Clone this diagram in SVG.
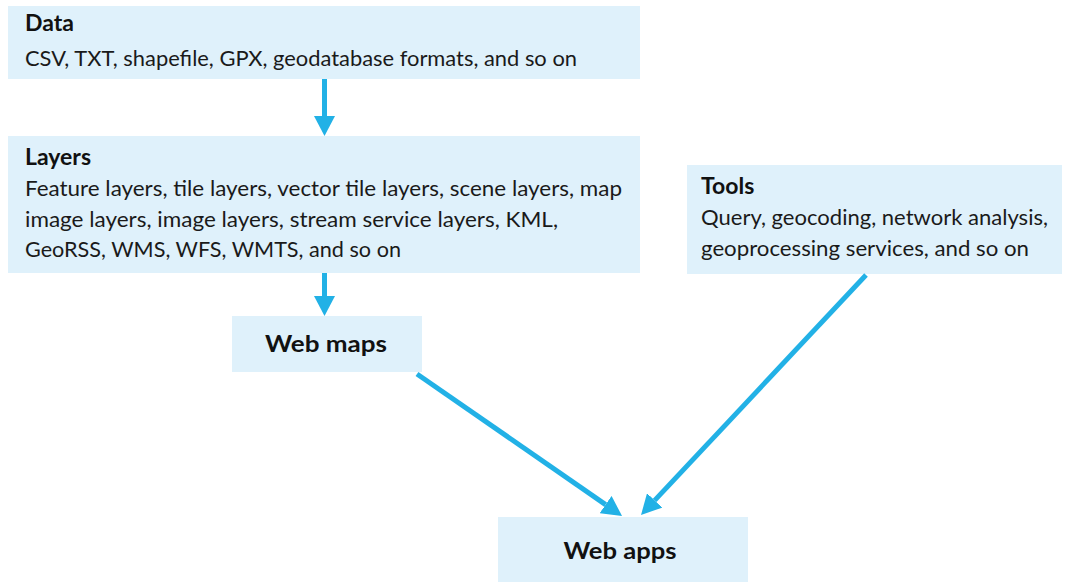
<svg xmlns="http://www.w3.org/2000/svg" width="1067" height="582" viewBox="0 0 1067 582">
  <style>
    .box { fill: #dff1fb; }
    .title { font-family: Lato, "Open Sans", "Liberation Sans", sans-serif; font-weight: bold; font-size: 23px; fill: #111; }
    .body { font-family: Lato, "Open Sans", "Liberation Sans", sans-serif; font-size: 21px; fill: #1a1a1a; }
    .link { fill: none; stroke: #22b1e6; stroke-width: 5; }
  </style>
  <defs>
    <marker id="head" markerUnits="userSpaceOnUse" viewBox="0 0 20 21" refX="0" refY="10.5" markerWidth="20" markerHeight="21" orient="auto">
      <path d="M0,0 L20,10.5 L0,21 z" fill="#22b1e6"/>
    </marker>
  </defs>

  <rect width="1067" height="582" fill="#ffffff"/>

  <g id="data">
    <rect class="box" x="8" y="6" width="632" height="73"/>
    <text class="title" x="25" y="31">Data</text>
    <text class="body" x="25" y="66" textLength="552" lengthAdjust="spacingAndGlyphs">CSV, TXT, shapefile, GPX, geodatabase formats, and so on</text>
  </g>

  <g id="layers">
    <rect class="box" x="8" y="136" width="632" height="137"/>
    <text class="title" x="25" y="165">Layers</text>
    <text class="body" x="25" y="196" textLength="597" lengthAdjust="spacingAndGlyphs">Feature layers, tile layers, vector tile layers, scene layers, map</text>
    <text class="body" x="25" y="227" textLength="533" lengthAdjust="spacingAndGlyphs">image layers, image layers, stream service layers, KML,</text>
    <text class="body" x="25" y="257" textLength="376" lengthAdjust="spacingAndGlyphs">GeoRSS, WMS, WFS, WMTS, and so on</text>
  </g>

  <g id="tools">
    <rect class="box" x="687" y="165" width="375" height="109"/>
    <text class="title" x="701" y="194">Tools</text>
    <text class="body" x="701" y="225" textLength="347" lengthAdjust="spacingAndGlyphs">Query, geocoding, network analysis,</text>
    <text class="body" x="701" y="256" textLength="328" lengthAdjust="spacingAndGlyphs">geoprocessing services, and so on</text>
  </g>

  <g id="web-maps">
    <rect class="box" x="232" y="316" width="190" height="56"/>
    <text class="title" x="326" y="352" text-anchor="middle" textLength="122" lengthAdjust="spacingAndGlyphs">Web maps</text>
  </g>

  <g id="web-apps">
    <rect class="box" x="498" y="517" width="250" height="65"/>
    <text class="title" x="620" y="559" text-anchor="middle" textLength="113" lengthAdjust="spacingAndGlyphs">Web apps</text>
  </g>

  <g id="connectors">
    <line class="link" x1="324.5" y1="79" x2="324.5" y2="116" marker-end="url(#head)"/>
    <line class="link" x1="324.5" y1="273" x2="324.5" y2="296" marker-end="url(#head)"/>
    <line class="link" x1="417" y1="374" x2="605.6" y2="504.6" marker-end="url(#head)"/>
    <line class="link" x1="866" y1="275" x2="654.7" y2="500.4" marker-end="url(#head)"/>
  </g>
</svg>
